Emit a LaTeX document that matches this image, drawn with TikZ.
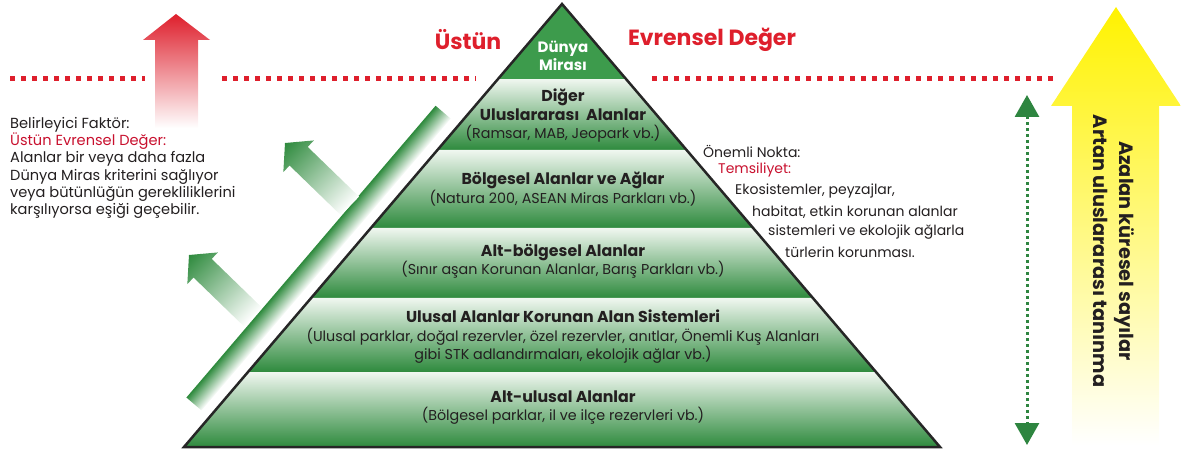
\documentclass[tikz,border=0pt]{standalone}
\usepackage{fontspec}
\setmainfont{Poppins}
\usetikzlibrary{arrows.meta,calc}
\definecolor{tred}{HTML}{DE1F2C}
\definecolor{dred}{HTML}{C8102E}
\definecolor{pg}{HTML}{2E8A3D}
\definecolor{pgl}{HTML}{F0F7F0}
\definecolor{topg}{HTML}{3D9B4C}
\definecolor{txt}{HTML}{231F20}
\definecolor{yel}{HTML}{FFF200}
\definecolor{dgreen}{HTML}{2E8540}
\tikzset{
  layer/.style={top color=pgl, bottom color=pg},
  lbl/.style={text=txt, align=center, font=\fontsize{14.3}{18.5}\selectfont, inner sep=0pt},
  side/.style={text=txt, anchor=west, font=\fontsize{14}{17}\selectfont, inner sep=0pt},
  ttl/.style={text=tred, font=\fontsize{22}{26}\selectfont\bfseries, inner sep=0pt},
  reddots/.style={tred, line width=5pt, dash pattern=on 5pt off 6pt},
  grdots/.style={dgreen, line width=3pt, dash pattern=on 3pt off 3pt,
     {Triangle[width=24pt,length=22pt]}-{Triangle[width=24pt,length=22pt]}},
  garrow/.style={left color=white, right color=pg},
}
\newcommand{\bl}[1]{{\fontsize{15.8}{18.5}\selectfont\bfseries #1}}
\begin{document}
\begin{tikzpicture}[x=1pt,y=-1pt]
\useasboundingbox (0,0) rectangle (1181,454);
% red dotted lines
\draw[reddots] (10,79) -- (145,79);
\draw[reddots] (222,79) -- (476,79);
\draw[reddots] (652,79) -- (1057,79);
% red arrow
\shade[top color=tred, middle color=tred!55!white, bottom color=white]
  (176,14) -- (210,40) -- (198,40) -- (198,128) -- (155,128) -- (155,40) -- (143,40) -- cycle;
% yellow arrow
\shade[top color=yel, middle color=yel!85!white, bottom color=white]
  (1116,7) -- (1181,106) -- (1159,106) -- (1159,445) -- (1072,445) -- (1072,106) -- (1051,106) -- cycle;
\node[rotate=-90, align=center, text=txt, font=\fontsize{19.3}{26}\selectfont\bfseries, inner sep=0pt]
  (yt) at (1114,251) {Azalan küresel sayılar\\Artan uluslararası tanınma};
% green double arrow
\coordinate (gt) at (1027,95);
\coordinate (gb) at (1027,445);
\draw[grdots] (gt) -- (gb);
% pyramid layers
\shade[layer] (498,79) -- (626,79) -- (686.6,150) -- (437.4,150) -- cycle;
\shade[layer] (437.4,150) -- (686.6,150) -- (753.1,228) -- (370.9,228) -- cycle;
\shade[layer] (370.9,228) -- (753.1,228) -- (812.8,298) -- (311.2,298) -- cycle;
\shade[layer] (311.2,298) -- (812.8,298) -- (875.9,372) -- (248.1,372) -- cycle;
\shade[layer] (248.1,372) -- (875.9,372) -- (940,447) -- (184,447) -- cycle;
\fill[topg] (562,4) -- (626,79) -- (498,79) -- cycle;
\draw[black!85, line width=2.5pt, line join=miter] (562,4) -- (940,447) -- (184,447) -- cycle;
% layer texts
\node[lbl, text=white, font=\fontsize{15}{18}\selectfont\bfseries] (l1) at (563,56) {Dünya\\Mirası};
\node[lbl] (l2) at (563,116) {\bl{Diğer}\\\bl{Uluslararası\ \ Alanlar}\\(Ramsar, MAB, Jeopark vb.)};
\node[lbl] (l3) at (563,189) {\bl{Bölgesel Alanlar ve Ağlar}\\(Natura 200, ASEAN Miras Parkları vb.)};
\node[lbl] (l4) at (563,261.5) {\bl{Alt-bölgesel Alanlar}\\(Sınır aşan Korunan Alanlar, Barış Parkları vb.)};
\node[lbl] (l5) at (563,337) {\bl{Ulusal Alanlar Korunan Alan Sistemleri}\\(Ulusal parklar, doğal rezervler, özel rezervler, anıtlar, Önemli Kuş Alanları\\gibi STK adlandırmaları, ekolojik ağlar vb.)};
\node[lbl] (l6) at (563,407.5) {\bl{Alt-ulusal Alanlar}\\(Bölgesel parklar, il ve ilçe rezervleri vb.)};
% titles
\node[ttl] (t1) at (468,40) {Üstün};
\node[ttl] (t2) at (712,40) {Evrensel Değer};
% green bar along the pyramid
\begin{scope}[transform canvas={shift={(194,404)}, rotate=49.5}]
  \shade[top color=pg, bottom color=white] (0,-10) rectangle (383.7,10);
\end{scope}
% small green arrows
\begin{scope}[transform canvas={shift={(285,143)}, rotate=135.9}]
  \shade[garrow] (0,0) -- (-19,-22) -- (-19,-13) -- (-90.5,-13) -- (-90.5,13) -- (-19,13) -- (-19,22) -- cycle;
\end{scope}
\begin{scope}[transform canvas={shift={(189,255)}, rotate=135.9}]
  \shade[garrow] (0,0) -- (-19,-22) -- (-19,-13) -- (-89.1,-13) -- (-89.1,13) -- (-19,13) -- (-19,22) -- cycle;
\end{scope}
% left text
\node[text=txt, anchor=north west, align=left, inner sep=0pt, font=\fontsize{14.6}{17.3}\selectfont] (lt) at (10,117)
 {Belirleyici Faktör:\\\textcolor{dred}{Üstün Evrensel Değer:}\\Alanlar bir veya daha fazla\\Dünya Miras kriterini sağlıyor\\veya bütünlüğün gerekliliklerini\\karşılıyorsa eşiği geçebilir.};
% right text
\node[side] (r1) at (703,151) {Önemli Nokta:};
\node[side, text=dred] (r2) at (718,170) {Temsiliyet:};
\node[side] (r3) at (735,191) {Ekosistemler, peyzajlar,};
\node[side] (r4) at (752,212) {habitat, etkin korunan alanlar};
\node[side] (r5) at (768,232) {sistemleri ve ekolojik ağlarla};
\node[side] (r6) at (785,252) {türlerin korunması.};
\end{tikzpicture}
\end{document}
